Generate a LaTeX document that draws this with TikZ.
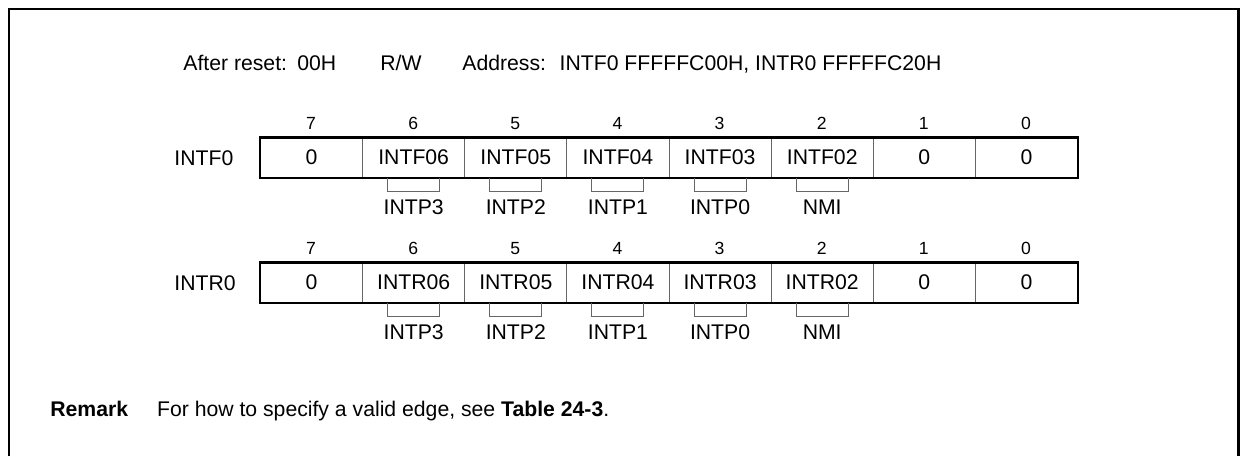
\documentclass[tikz,border=0pt]{standalone}
\usepackage{fontspec}
\setmainfont{Liberation Sans}
\usetikzlibrary{calc}
\begin{document}
\begin{tikzpicture}[x=0.5pt,y=-0.5pt,
  txt/.style={font=\fontsize{10.6}{12}\selectfont, inner sep=0pt},
  bitnum/.style={font=\fontsize{8.8}{10}\selectfont, inner sep=0pt, anchor=base},
  cell/.style={draw=black!60, line width=0.5pt, minimum width=51.06pt, minimum height=19.7pt,
    inner sep=0pt, anchor=north west, font=\fontsize{10.6}{12}\selectfont},
  frame/.style={line width=1.2pt},
  regframe/.style={line width=1.2pt},
  brk/.style={draw=black!60, line width=0.5pt}]
\useasboundingbox (0,0) rectangle (1241,456);
% outer frame (open at bottom)
\draw[frame] (8.7,456) -- (8.7,8.7) -- (1238.5,8.7) -- (1238.5,456);
% header
\node[txt, anchor=base west] (h1) at (183,70) {After reset:};
\node[txt, anchor=base west] (h2) at (297,70) {00H};
\node[txt, anchor=base west] (h3) at (380,70) {R/W};
\node[txt, anchor=base west] (h4) at (462,70) {Address:};
\node[txt, anchor=base west] (h5) at (559.3,70) {INTF0 FFFFFC00H, INTR0 FFFFFC20H};
% register INTF0
\node[txt, anchor=base west] (lf) at (174,165) {INTF0};
\foreach \b/\t [count=\i from 0] in {7/0,6/INTF06,5/INTF05,4/INTF04,3/INTF03,2/INTF02,1/0,0/0} {
  \node[cell] (f\b) at ({260+102.125*\i},137.3) {\t};
  \node[bitnum] (fn\b) at ({311.06+102.125*\i},129.3) {\b};
}
\draw[regframe] (f7.north west) rectangle (f0.south east);
\foreach \b/\l in {6/INTP3,5/INTP2,4/INTP1,3/INTP0,2/NMI} {
  \draw[brk] ($(f\b.south)+(-26,0)$) |- ($(f\b.south)+(26,13.7)$) -- ($(f\b.south)+(26,0)$);
  \node[txt, anchor=base] (fl\b) at ($(f\b.south)+(0,36.6)$) {\l};
}
% register INTR0
\node[txt, anchor=base west] (lr) at (174,290) {INTR0};
\foreach \b/\t [count=\i from 0] in {7/0,6/INTR06,5/INTR05,4/INTR04,3/INTR03,2/INTR02,1/0,0/0} {
  \node[cell] (r\b) at ({260+102.125*\i},262.3) {\t};
  \node[bitnum] (rn\b) at ({311.06+102.125*\i},254.3) {\b};
}
\draw[regframe] (r7.north west) rectangle (r0.south east);
\foreach \b/\l in {6/INTP3,5/INTP2,4/INTP1,3/INTP0,2/NMI} {
  \draw[brk] ($(r\b.south)+(-26,0)$) |- ($(r\b.south)+(26,13.7)$) -- ($(r\b.south)+(26,0)$);
  \node[txt, anchor=base] (rl\b) at ($(r\b.south)+(0,36.6)$) {\l};
}
% remark
\node[txt, anchor=base west] (rem) at (50,416) {\bfseries Remark};
\node[txt, anchor=base west] (remt) at (156.7,416) {For how to specify a valid edge, see \textbf{Table 24-3}.};
\end{tikzpicture}
\end{document}
